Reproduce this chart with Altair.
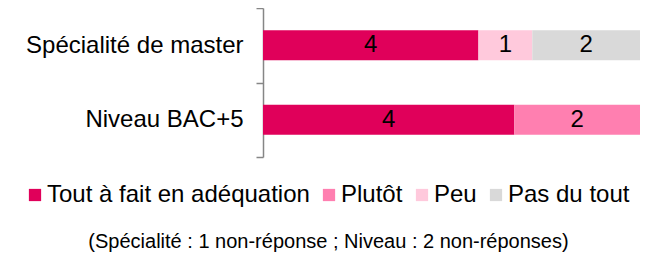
import altair as alt
import pandas as pd

categories = ["Spécialité de master", "Niveau BAC+5"]
series = ["Tout à fait en adéquation", "Plutôt", "Peu", "Pas du tout"]
colors = ["#E0005A", "#FF7FB0", "#FFC9DC", "#D9D9D9"]
tout = [4, 4]
plutot = [0, 2]
peu = [1, 0]
pas = [2, 0]
note = "(Spécialité : 1 non-réponse ; Niveau : 2 non-réponses)"

rows = []
for si, (s, vals) in enumerate(zip(series, [tout, plutot, peu, pas])):
    for c, v in zip(categories, vals):
        rows.append({"cat": c, "serie": s, "order": si, "value": v})
df = pd.DataFrame(rows)

FONT = "Liberation Sans"

base = (
    alt.Chart(df)
    .transform_filter("datum.value > 0")
    .transform_stack(
        stack="value",
        groupby=["cat"],
        as_=["x0", "x1"],
        offset="normalize",
        sort=[alt.SortField("order", order="ascending")],
    )
    .transform_calculate(mid="(datum.x0 + datum.x1) / 2")
)

y = alt.Y(
    "cat:N",
    sort=categories,
    title=None,
    scale=alt.Scale(paddingInner=0, paddingOuter=0),
    axis=alt.Axis(
        tickBand="extent",
        domainColor="#868686",
        tickColor="#868686",
        domainWidth=1.5,
        tickWidth=1.5,
        tickSize=7,
        labelFontSize=24,
        labelFont=FONT,
        labelColor="black",
        labelPadding=13,
        labelLimit=400,
        grid=False,
    ),
)

xscale = alt.Scale(domain=[0, 1], nice=False, zero=True)

bars = base.mark_bar(size=30).encode(
    x=alt.X("x0:Q", scale=xscale, axis=None),
    x2="x1:Q",
    y=y,
    color=alt.Color(
        "serie:N",
        scale=alt.Scale(domain=series, range=colors),
        legend=alt.Legend(
            title=None,
            orient="none",
            direction="horizontal",
            legendX=-240,
            legendY=175,
            symbolType="square",
            symbolSize=150,
            symbolStrokeWidth=0,
            labelFontSize=24,
            labelFont=FONT,
            labelColor="black",
            labelLimit=400,
            columnPadding=7,
            labelOffset=0,
            padding=0,
        ),
    ),
)

labels = base.mark_text(fontSize=24, font=FONT, color="black", baseline="middle").encode(
    x=alt.X("mid:Q", scale=xscale, axis=None),
    y=y,
    text="value:Q",
)

foot = alt.Chart(pd.DataFrame({"t": [note]})).mark_text(
    fontSize=20, font=FONT, color="black", baseline="middle", align="center"
).encode(x=alt.value(65.5), y=alt.value(234), text="t:N")

chart = (
    alt.layer(bars, labels, foot)
    .properties(
        width=377,
        height=149,
        padding={"left": 255, "top": 0, "right": 6, "bottom": 97},
        autosize=alt.AutoSizeParams(type="none"),
    )
    .configure_view(stroke=None)
)

chart.save("out.html", embed_options={"renderer": "svg", "actions": False})
